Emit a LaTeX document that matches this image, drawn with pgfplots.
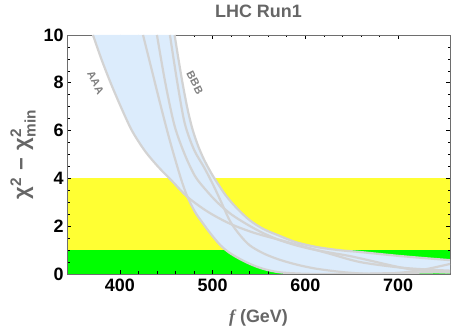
\documentclass[border=0pt]{standalone}
\usepackage{pgfplots}
\pgfplotsset{compat=1.18}
\usepgfplotslibrary{fillbetween}
\usepackage{amsmath}
\usepackage{fontspec}
\setmainfont{Liberation Sans}
\newfontfamily\seriffont{Liberation Serif}
\definecolor{bandblue}{RGB}{220,236,252}
\definecolor{curvegray}{RGB}{211,211,211}
\definecolor{labgray}{RGB}{102,102,102}
\definecolor{myyellow}{RGB}{255,255,51}
\definecolor{mygreen}{RGB}{0,255,0}
\definecolor{framegray}{RGB}{110,110,110}
\begin{document}
\begin{tikzpicture}
\begin{axis}[
  set layers,
  at={(0,0)}, anchor=south west,
  scale only axis, width=383bp, height=239bp,
  xmin=343, xmax=756, ymin=0, ymax=10,
  xtick={400,500,600,700}, ytick={0,2,4,6,8,10},
  minor x tick num=4, minor y tick num=3,
  tick align=inside,
  major tick length=4bp, minor tick length=2.5bp,
  axis line style={framegray, line width=0.6bp},
  every tick/.style={black, line width=0.6bp},
  /pgf/number format/assume math mode=true,
  ticklabel style={font=\fontsize{18}{20}\selectfont\bfseries},
  xticklabel style={yshift=-1bp},
  title={LHC Run1},
  title style={font=\fontsize{18}{20}\selectfont\bfseries, text=labgray, at={(axis description cs:0.5,1.075)}, anchor=center},
  xlabel={{\seriffont\itshape f} (GeV)},
  every axis x label/.style={at={(axis description cs:0.5,-0.184)}, anchor=center, font=\fontsize{18}{20}\selectfont\bfseries, text=labgray},
  ylabel={χ$^{\text{2}}$\,\,−\,\,χ$^{\text{2}}_{\text{min}}$},
  every axis y label/.style={at={(axis description cs:-0.115,0.5)}, rotate=90, anchor=center, font=\fontsize{22}{24}\selectfont\bfseries, text=labgray},
]
% bands
\addplot[draw=none, fill=myyellow, on layer=axis background] coordinates {(343,1) (756,1) (756,4) (343,4)} -- cycle;
\addplot[draw=none, fill=mygreen, on layer=axis background] coordinates {(343,0) (756,0) (756,1) (343,1)} -- cycle;

% envelope boundaries
\addplot[draw=none, smooth, tension=0.5, name path=lower] coordinates {
 (371,10) (380,9) (390,8) (401,7) (413,6) (427,5.15) (441,4.5) (456,3.9) (473,3.22)
 (481,2.6) (489,2.15) (498,1.68) (508,1.22) (517,0.92) (527,0.68) (537,0.48) (548,0.3)
 (560,0.16) (575,0.06) (600,0.01) (630,0.0) (660,0.01) (700,0.04) (756,0.08)};
\addplot[draw=none, smooth, tension=0.5, name path=upper] coordinates {
 (459,10) (464,8.8) (468,7.9) (473,6.9) (478,6.1) (484,5.4) (490,4.85) (496,4.4) (502,4.0)
 (514,3.3) (526,2.76) (540,2.25) (555,1.88) (572,1.6) (590,1.33) (612,1.13) (636,1.0)
 (659,0.92) (700,0.76) (730,0.66) (756,0.58)};
\addplot[bandblue] fill between[of=lower and upper];

% curves
\addplot[curvegray, line width=2.2bp, smooth, tension=0.5] coordinates {
 (371,10) (380,9) (390,8) (401,7) (413,6) (427,5.15) (441,4.5) (456,3.9) (473,3.22)
 (495,2.6) (519,2.1) (545,1.72) (573,1.42) (600,1.13) (626,0.85) (659,0.5) (700,0.28)
 (730,0.19) (756,0.14)};
\addplot[curvegray, line width=2.2bp, smooth, tension=0.5] coordinates {
 (425,10) (434,8.6) (443,7.2) (452,5.85) (460,4.75) (467,3.85) (473,3.22) (481,2.6)
 (489,2.15) (498,1.68) (508,1.22) (517,0.92) (527,0.68) (537,0.48) (548,0.3) (560,0.16)
 (575,0.06) (600,0.01) (630,0.0) (660,0.01) (700,0.04) (756,0.08)};
\addplot[curvegray, line width=2.2bp, smooth, tension=0.5] coordinates {
 (440,10) (449,8) (459,6.2) (470,5) (481,4.1) (492,3.55) (505,3.0) (520,2.5) (537,2.08)
 (554,1.72) (572,1.42) (590,1.2) (608,1.03) (626,0.9) (648,0.75) (670,0.56) (690,0.38)
 (710,0.22) (735,0.1) (756,0.06)};
\addplot[curvegray, line width=2.2bp, smooth, tension=0.5] coordinates {
 (454,10) (462,8) (470,6.3) (480,5.2) (491,4.45) (501,3.7) (510,2.95) (519,2.2) (529,1.65)
 (540,1.2) (555,0.86) (572,0.6) (592,0.38) (612,0.22) (640,0.08) (665,0.01) (684,0.0)
 (705,0.06) (730,0.2) (756,0.42)};
\addplot[curvegray, line width=2.2bp, smooth, tension=0.5] coordinates {
 (459,10) (464,8.8) (468,7.9) (473,6.9) (478,6.1) (484,5.4) (490,4.85) (496,4.4) (502,4.0)
 (514,3.3) (526,2.76) (540,2.25) (555,1.88) (572,1.6) (590,1.33) (612,1.13) (636,1.0)
 (659,0.92) (700,0.76) (730,0.66) (756,0.58)};

\node[rotate=-63, text=gray, font=\fontsize{11}{13}\selectfont\bfseries] at (axis cs:374,8.0) {AAA};
\node[rotate=-63, text=gray, font=\fontsize{11}{13}\selectfont\bfseries] at (axis cs:481,8.0) {BBB};
\end{axis}
\pgfresetboundingbox
\path (-67bp,-57bp) rectangle (386bp,274bp);
\end{tikzpicture}
\end{document}
